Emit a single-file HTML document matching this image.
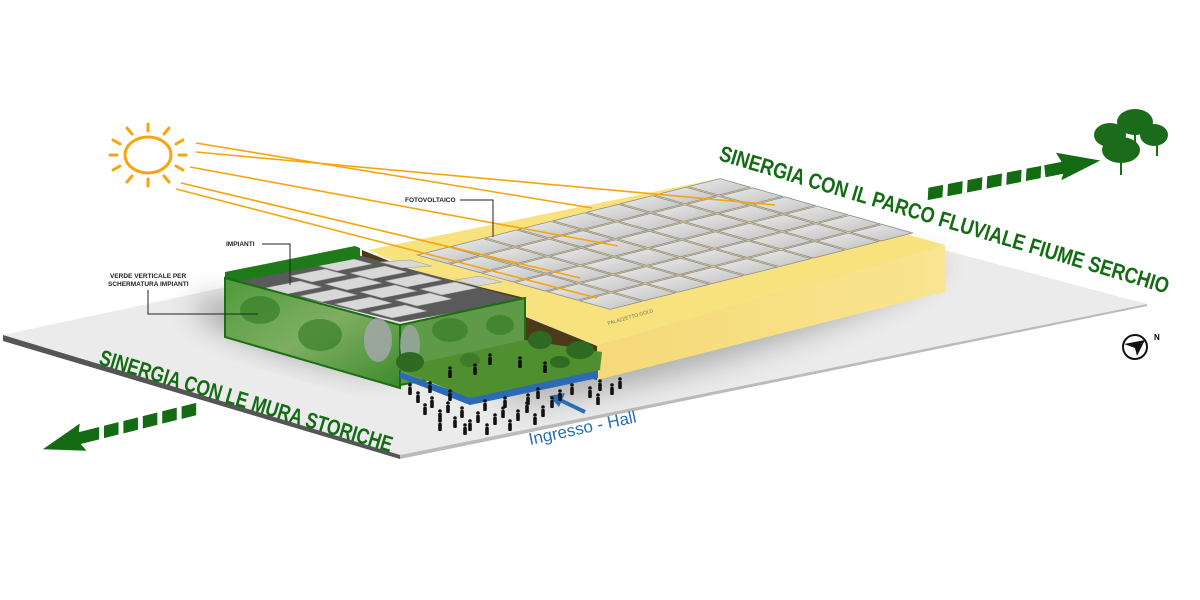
<!DOCTYPE html>
<html><head><meta charset="utf-8"><style>
html,body{margin:0;padding:0;background:#fff;width:1200px;height:600px;overflow:hidden}
svg{display:block}
text{font-family:"Liberation Sans",sans-serif}
</style></head><body>
<svg width="1200" height="600" viewBox="0 0 1200 600" xmlns="http://www.w3.org/2000/svg">
<defs>
<filter id="blur" x="-50%" y="-50%" width="200%" height="200%"><feGaussianBlur stdDeviation="14"/></filter>
<linearGradient id="yr" x1="0" y1="0" x2="1" y2="0"><stop offset="0" stop-color="#f6d978"/><stop offset="1" stop-color="#f9e590"/></linearGradient>
<linearGradient id="gw" x1="0" y1="0" x2="1" y2="1"><stop offset="0" stop-color="#4f9a3a"/><stop offset=".5" stop-color="#7fae62"/><stop offset="1" stop-color="#3d8a2c"/></linearGradient>
<linearGradient id="pan" x1="0" y1="0" x2="1" y2="1"><stop offset="0" stop-color="#ececec"/><stop offset="1" stop-color="#c0c0c0"/></linearGradient>
</defs>
<!-- ground -->
<polygon points="3,335 700,185 1147,304 400,455" fill="#ebebeb"/>
<polygon points="3,335 400,455 400,459 3,341" fill="#555"/>
<polygon points="400,455 1147,304 1147,306 400,459" fill="#bbb"/>
<!-- shadows -->
<ellipse cx="720" cy="330" rx="230" ry="30" fill="#666" opacity=".45" filter="url(#blur)" transform="rotate(-17 720 330)"/>
<ellipse cx="300" cy="335" rx="110" ry="22" fill="#555" opacity=".45" filter="url(#blur)" transform="rotate(16 300 335)"/>
<!-- yellow building -->
<polygon points="368,250 712,180 945,245 597,346" fill="#f8e27e"/>
<polygon points="597,346 945,245 945,292 597,380" fill="url(#yr)"/>
<polygon points="362,250 597,346 597,380 525,362 525,298 362,258" fill="#4a3a1a"/>
<text x="608" y="325" font-size="5" fill="#775" transform="rotate(-16 608 325)">PALAZZETTO GOLD</text>
<!-- solar panels -->
<g stroke="#8f8f8f" stroke-width=".8" fill="url(#pan)" id="panels"></g>
<!-- green block interior -->
<polygon points="230,280 358,255 525,300 400,322" fill="#5a5a5a"/>
<g fill="#d8d8d8" stroke="#999" stroke-width=".6">
<polygon points="265,288 300,281 322,287 287,294"/><polygon points="300,296 335,289 357,295 322,302"/><polygon points="335,304 370,297 392,303 357,310"/><polygon points="370,312 405,305 427,311 392,318"/>
<polygon points="290,276 325,269 347,275 312,282"/><polygon points="325,284 360,277 382,283 347,290"/><polygon points="360,292 395,285 417,291 382,298"/><polygon points="395,300 430,293 452,299 417,306"/>
<polygon points="315,265 350,258 372,264 337,271"/><polygon points="350,273 385,266 407,272 372,279"/><polygon points="385,281 420,274 442,280 407,287"/><polygon points="420,289 455,282 477,288 442,295"/>
<polygon points="380,262 410,260 432,266 402,268"/><polygon points="455,280 480,276 502,282 477,286"/>
</g>
<polygon points="225,272 355,246 360,248 360,258 230,283 225,280" fill="#1f7a1a"/>
<polygon points="225,278 400,325 400,388 225,337" fill="url(#gw)" stroke="#1a6e14" stroke-width="2"/>
<polygon points="400,325 525,298 525,360 400,385" fill="#5f9a48" stroke="#1a6e14" stroke-width="2"/>
<g fill="#2f7a22" opacity=".6"><ellipse cx="260" cy="310" rx="20" ry="14"/><ellipse cx="320" cy="335" rx="22" ry="16"/><ellipse cx="450" cy="330" rx="18" ry="12"/><ellipse cx="500" cy="325" rx="14" ry="10"/></g>
<ellipse cx="378" cy="340" rx="14" ry="22" fill="#a7a8b0" opacity=".8"/>
<ellipse cx="410" cy="345" rx="10" ry="20" fill="#a7a8b0" opacity=".7"/>
<!-- garden -->
<polygon points="400,378 470,405 598,378 598,370 470,397 400,372" fill="#2a6bb3"/>
<polygon points="395,368 525,340 602,352 600,370 470,398" fill="#4f8f2f"/>
<g fill="#2f6a22"><ellipse cx="410" cy="362" rx="14" ry="10"/><ellipse cx="540" cy="340" rx="12" ry="9"/><ellipse cx="580" cy="350" rx="14" ry="9"/><ellipse cx="470" cy="360" rx="10" ry="7" fill="#3d7d2a"/><ellipse cx="560" cy="362" rx="10" ry="6"/></g>
<!-- sun -->
<g stroke="#f5a50d" stroke-width="3" fill="none" stroke-linecap="round">
<ellipse cx="148" cy="155" rx="23" ry="18"/>
<line x1="148" y1="124" x2="148" y2="131"/><line x1="148" y1="179" x2="148" y2="186"/>
<line x1="110" y1="155" x2="117" y2="155"/><line x1="179" y1="155" x2="186" y2="155"/>
<line x1="127" y1="128" x2="132" y2="134"/><line x1="164" y1="134" x2="169" y2="128"/>
<line x1="127" y1="182" x2="132" y2="176"/><line x1="164" y1="176" x2="169" y2="182"/>
<line x1="113" y1="140" x2="120" y2="144"/><line x1="176" y1="144" x2="183" y2="140"/>
<line x1="113" y1="170" x2="120" y2="166"/><line x1="176" y1="166" x2="183" y2="170"/>
</g>
<g stroke="#f5a50d" stroke-width="1.6">
<line x1="196" y1="143" x2="592" y2="208"/>
<line x1="196" y1="152" x2="775" y2="205"/>
<line x1="190" y1="167" x2="618" y2="246"/>
<line x1="181" y1="183" x2="580" y2="278"/>
<line x1="176" y1="189" x2="597" y2="298"/>
</g>
<!-- labels -->
<g font-size="6.5" font-weight="bold" fill="#222">
<text x="405" y="202">FOTOVOLTAICO</text>
<text x="226" y="246">IMPIANTI</text>
<text x="110" y="278">VERDE VERTICALE PER</text>
<text x="108" y="286">SCHERMATURA IMPIANTI</text>
</g>
<g stroke="#222" stroke-width="1" fill="none">
<polyline points="460,200 493,200 493,237"/>
<polyline points="262,244 290,244 290,285"/>
<polyline points="148,290 148,314 258,314"/>
</g>
<!-- titles -->
<text x="718" y="160" font-size="22" font-weight="bold" fill="#136b13" transform="rotate(16.6 718 160)" textLength="468" lengthAdjust="spacingAndGlyphs">SINERGIA CON IL PARCO FLUVIALE FIUME SERCHIO</text>
<text x="98" y="364" font-size="22" font-weight="bold" fill="#136b13" transform="rotate(16.8 98 364)" textLength="305" lengthAdjust="spacingAndGlyphs">SINERGIA CON LE MURA STORICHE</text>
<!-- arrows -->
<g fill="#136b13">
<g transform="rotate(-11 1010 178)">
<polygon points="928,172 943,172 940,184 925,184"/><polygon points="948,172 963,172 960,184 945,184"/><polygon points="968,172 983,172 980,184 965,184"/><polygon points="988,172 1003,172 1000,184 985,184"/><polygon points="1008,172 1023,172 1020,184 1005,184"/><polygon points="1028,172 1043,172 1040,184 1025,184"/><polygon points="1046,172 1070,172 1070,184 1045,184"/>
<polygon points="1060,162 1102,178 1060,190 1066,178"/>
</g>
<g transform="rotate(-14 120 428)">
<polygon points="185,422 200,422 197,434 182,434"/><polygon points="165,422 180,422 177,434 162,434"/><polygon points="145,422 160,422 157,434 142,434"/><polygon points="125,422 140,422 137,434 122,434"/><polygon points="105,422 120,422 117,434 102,434"/><polygon points="75,422 100,422 97,434 75,434"/>
<polygon points="82,414 40,430 82,442 76,430"/>
</g>
</g>
<!-- trees -->
<g fill="#1a6b1a">
<rect x="1134" y="128" width="2" height="18"/><rect x="1109" y="140" width="2" height="17"/><rect x="1156" y="140" width="2" height="16"/><rect x="1120" y="155" width="2" height="20"/>
<ellipse cx="1135" cy="122" rx="18" ry="13"/><ellipse cx="1110" cy="135" rx="16" ry="12"/><ellipse cx="1154" cy="135" rx="14" ry="11"/><ellipse cx="1121" cy="150" rx="19" ry="13"/>
</g>
<!-- compass -->
<circle cx="1135" cy="347" r="12" fill="#fff" stroke="#111" stroke-width="2"/>
<polygon points="1124,344 1145,340 1137,356 1135,348" fill="#111"/>
<text x="1154" y="340" font-size="8" font-weight="bold">N</text>
<!-- entrance -->
<text x="530" y="445" font-size="17" fill="#2b6db4" transform="rotate(-12 530 445)">Ingresso - Hall</text>
<g stroke="#2b6db4" stroke-width="4" fill="#2b6db4">
<line x1="585" y1="412" x2="560" y2="400"/>
<polygon points="549,396 565,393 559,407" stroke="none"/>
</g>
<g id="people" fill="#111"></g>
</svg>
<script>
(function(){
var ns="http://www.w3.org/2000/svg";
var g=document.getElementById("panels");
var A=[415,255],B=[720,178],D=[610,310];
var nc=9,nr=6;
function P(u,v){return [A[0]+(B[0]-A[0])*u+(D[0]-A[0])*v, A[1]+(B[1]-A[1])*u+(D[1]-A[1])*v];}
for(var i=0;i<nc;i++)for(var j=0;j<nr;j++){
 var u0=i/nc+0.004,u1=(i+1)/nc-0.004,v0=j/nr+0.006,v1=(j+1)/nr-0.006;
 var p=[P(u0,v0),P(u1,v0),P(u1,v1),P(u0,v1)];
 var e=document.createElementNS(ns,"polygon");
 e.setAttribute("points",p.map(function(q){return q.join(",")}).join(" "));
 g.appendChild(e);
}
var pg=document.getElementById("people");
var pts=[[418,400],[425,412],[432,405],[440,418],[448,410],[455,425],[462,415],[470,428],[478,420],[487,432],[495,422],[503,415],[510,428],[518,418],[527,410],[535,422],[543,414],[552,405],[560,398],[572,392],[590,395],[600,388],[612,392],[620,386],[528,402],[485,408],[465,432],[440,428],[450,398],[505,405],[598,402],[538,396],[410,392],[430,390],
[450,375],[475,372],[490,362],[520,365],[545,370]];
pts.forEach(function(q){
 var c=document.createElementNS(ns,"circle");c.setAttribute("cx",q[0]);c.setAttribute("cy",q[1]-7);c.setAttribute("r",1.8);pg.appendChild(c);
 var r=document.createElementNS(ns,"rect");r.setAttribute("x",q[0]-1.8);r.setAttribute("y",q[1]-5);r.setAttribute("width",3.6);r.setAttribute("height",8);r.setAttribute("rx",1);pg.appendChild(r);
});
})();
</script>
</body></html>
